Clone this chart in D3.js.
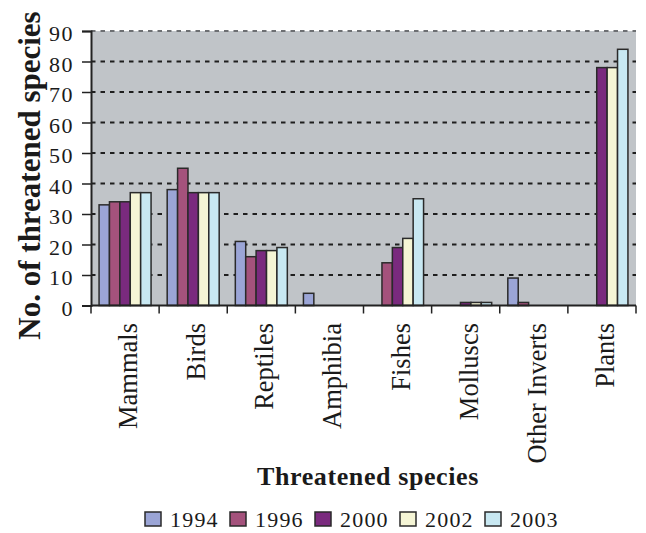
<!DOCTYPE html>
<html>
<head>
<meta charset="utf-8">
<script src="https://cdn.jsdelivr.net/npm/d3@7"></script>
<style>
  html, body { margin: 0; padding: 0; background: #ffffff; }
  svg { display: block; }
  text { font-family: "Liberation Serif", "Times New Roman", serif; fill: #1a1a1a; }
</style>
</head>
<body>
<svg id="chart" width="646" height="533"></svg>
<script>
const categories = ["Mammals", "Birds", "Reptiles", "Amphibia", "Fishes", "Molluscs", "Other Inverts", "Plants"];
const years = ["1994", "1996", "2000", "2002", "2003"];
const values1994 = [33, 38, 21, 4, 0, 0, 9, 0];
const values1996 = [34, 45, 16, 0, 14, 0, 1, 0];
const values2000 = [34, 37, 18, 0, 19, 1, 0, 78];
const values2002 = [37, 37, 18, 0, 22, 1, 0, 78];
const values2003 = [37, 37, 19, 0, 35, 1, 0, 84];
const yTicks = [0, 10, 20, 30, 40, 50, 60, 70, 80, 90];
const colors = ["#9ba5d6", "#a4527c", "#7a2a7e", "#f5f5d5", "#c8e8f2"];
const yTitle = "No. of threatened species";
const xTitle = "Threatened species";

const series = [values1994, values1996, values2000, values2002, values2003];

const svg = d3.select("#chart");
const pLeft = 91, pRight = 636, pTop = 31, pBottom = 305.5;

const x = d3.scaleBand().domain(categories).range([pLeft, pRight]).paddingInner(0).paddingOuter(0);
const bw = x.bandwidth();
const groupW = 52;
const x1 = d3.scaleBand().domain(years).range([(bw - groupW) / 2, (bw + groupW) / 2]).padding(0);
const y = d3.scaleLinear().domain([0, 90]).range([pBottom, pTop]);

// plot background
svg.append("rect")
  .attr("x", pLeft).attr("y", pTop)
  .attr("width", pRight - pLeft).attr("height", pBottom - pTop)
  .attr("fill", "#c0c4c8");

// gridlines
svg.append("g")
  .selectAll("line")
  .data(yTicks.filter(d => d > 0))
  .join("line")
  .attr("x1", pLeft).attr("x2", pRight)
  .attr("y1", d => y(d)).attr("y2", d => y(d))
  .attr("stroke", d => d === 90 ? "#6d6f72" : "#1e1e1e")
  .attr("stroke-width", 2)
  .attr("stroke-dasharray", "4.5,5");

// bars
const rows = [];
categories.forEach((c, i) => {
  years.forEach((yr, j) => {
    rows.push({ cat: c, year: yr, value: series[j][i], color: colors[j] });
  });
});

svg.append("g")
  .selectAll("rect")
  .data(rows.filter(d => d.value > 0))
  .join("rect")
  .attr("x", d => x(d.cat) + x1(d.year))
  .attr("y", d => y(d.value))
  .attr("width", x1.bandwidth())
  .attr("height", d => y(0) - y(d.value))
  .attr("fill", d => d.color)
  .attr("stroke", "#2a2a2a")
  .attr("stroke-width", 1.5);

// y axis
const yAxis = d3.axisLeft(y).tickValues(yTicks).tickSize(9).tickPadding(10).tickFormat(d3.format("d"));
const gy = svg.append("g").attr("transform", `translate(${pLeft},0)`).call(yAxis);
gy.select(".domain").attr("stroke", "#222").attr("stroke-width", 2);
gy.selectAll(".tick line").attr("stroke", "#222").attr("stroke-width", 1.5);
gy.selectAll(".tick text")
  .attr("font-family", "Liberation Serif, serif")
  .attr("font-size", 22)
  .attr("letter-spacing", "1.5px")
  .attr("fill", "#1a1a1a")
  .attr("x", -17)
  .attr("dy", "0.45em");

// x axis (category boundaries as ticks)
svg.append("line")
  .attr("x1", pLeft).attr("x2", pRight)
  .attr("y1", pBottom).attr("y2", pBottom)
  .attr("stroke", "#222").attr("stroke-width", 2);
const boundaries = categories.map(c => x(c)).concat([x(categories[categories.length - 1]) + bw]);
svg.append("g")
  .selectAll("line")
  .data(boundaries)
  .join("line")
  .attr("x1", d => d).attr("x2", d => d)
  .attr("y1", pBottom).attr("y2", pBottom + 8)
  .attr("stroke", "#222").attr("stroke-width", 1.5);

// category labels
svg.append("g")
  .selectAll("text")
  .data(categories)
  .join("text")
  .attr("transform", d => `translate(${x(d) + bw / 2 + 12},323) rotate(-90)`)
  .attr("text-anchor", "end")
  .attr("font-size", 26.5)
  .text(d => d);

// y title
svg.append("text")
  .attr("transform", `translate(40,175.5) rotate(-90)`)
  .attr("text-anchor", "middle")
  .attr("font-size", 31)
  .attr("font-weight", "bold")
  .text(yTitle);

// x title
svg.append("text")
  .attr("x", 368).attr("y", 485)
  .attr("text-anchor", "middle")
  .attr("font-size", 26)
  .attr("font-weight", "bold")
  .attr("letter-spacing", "0.6px")
  .text(xTitle);

// legend
const lg = svg.append("g");
const items = lg.selectAll("g")
  .data(years)
  .join("g")
  .attr("transform", (d, i) => `translate(${145 + i * 85},0)`);
items.append("rect")
  .attr("x", 0).attr("y", 512)
  .attr("width", 16).attr("height", 14)
  .attr("fill", (d, i) => colors[i])
  .attr("stroke", "#2a2a2a")
  .attr("stroke-width", 1.5);
items.append("text")
  .attr("x", 25).attr("y", 527)
  .attr("font-size", 22)
  .attr("letter-spacing", "1.2px")
  .text(d => d);
</script>
</body>
</html>
